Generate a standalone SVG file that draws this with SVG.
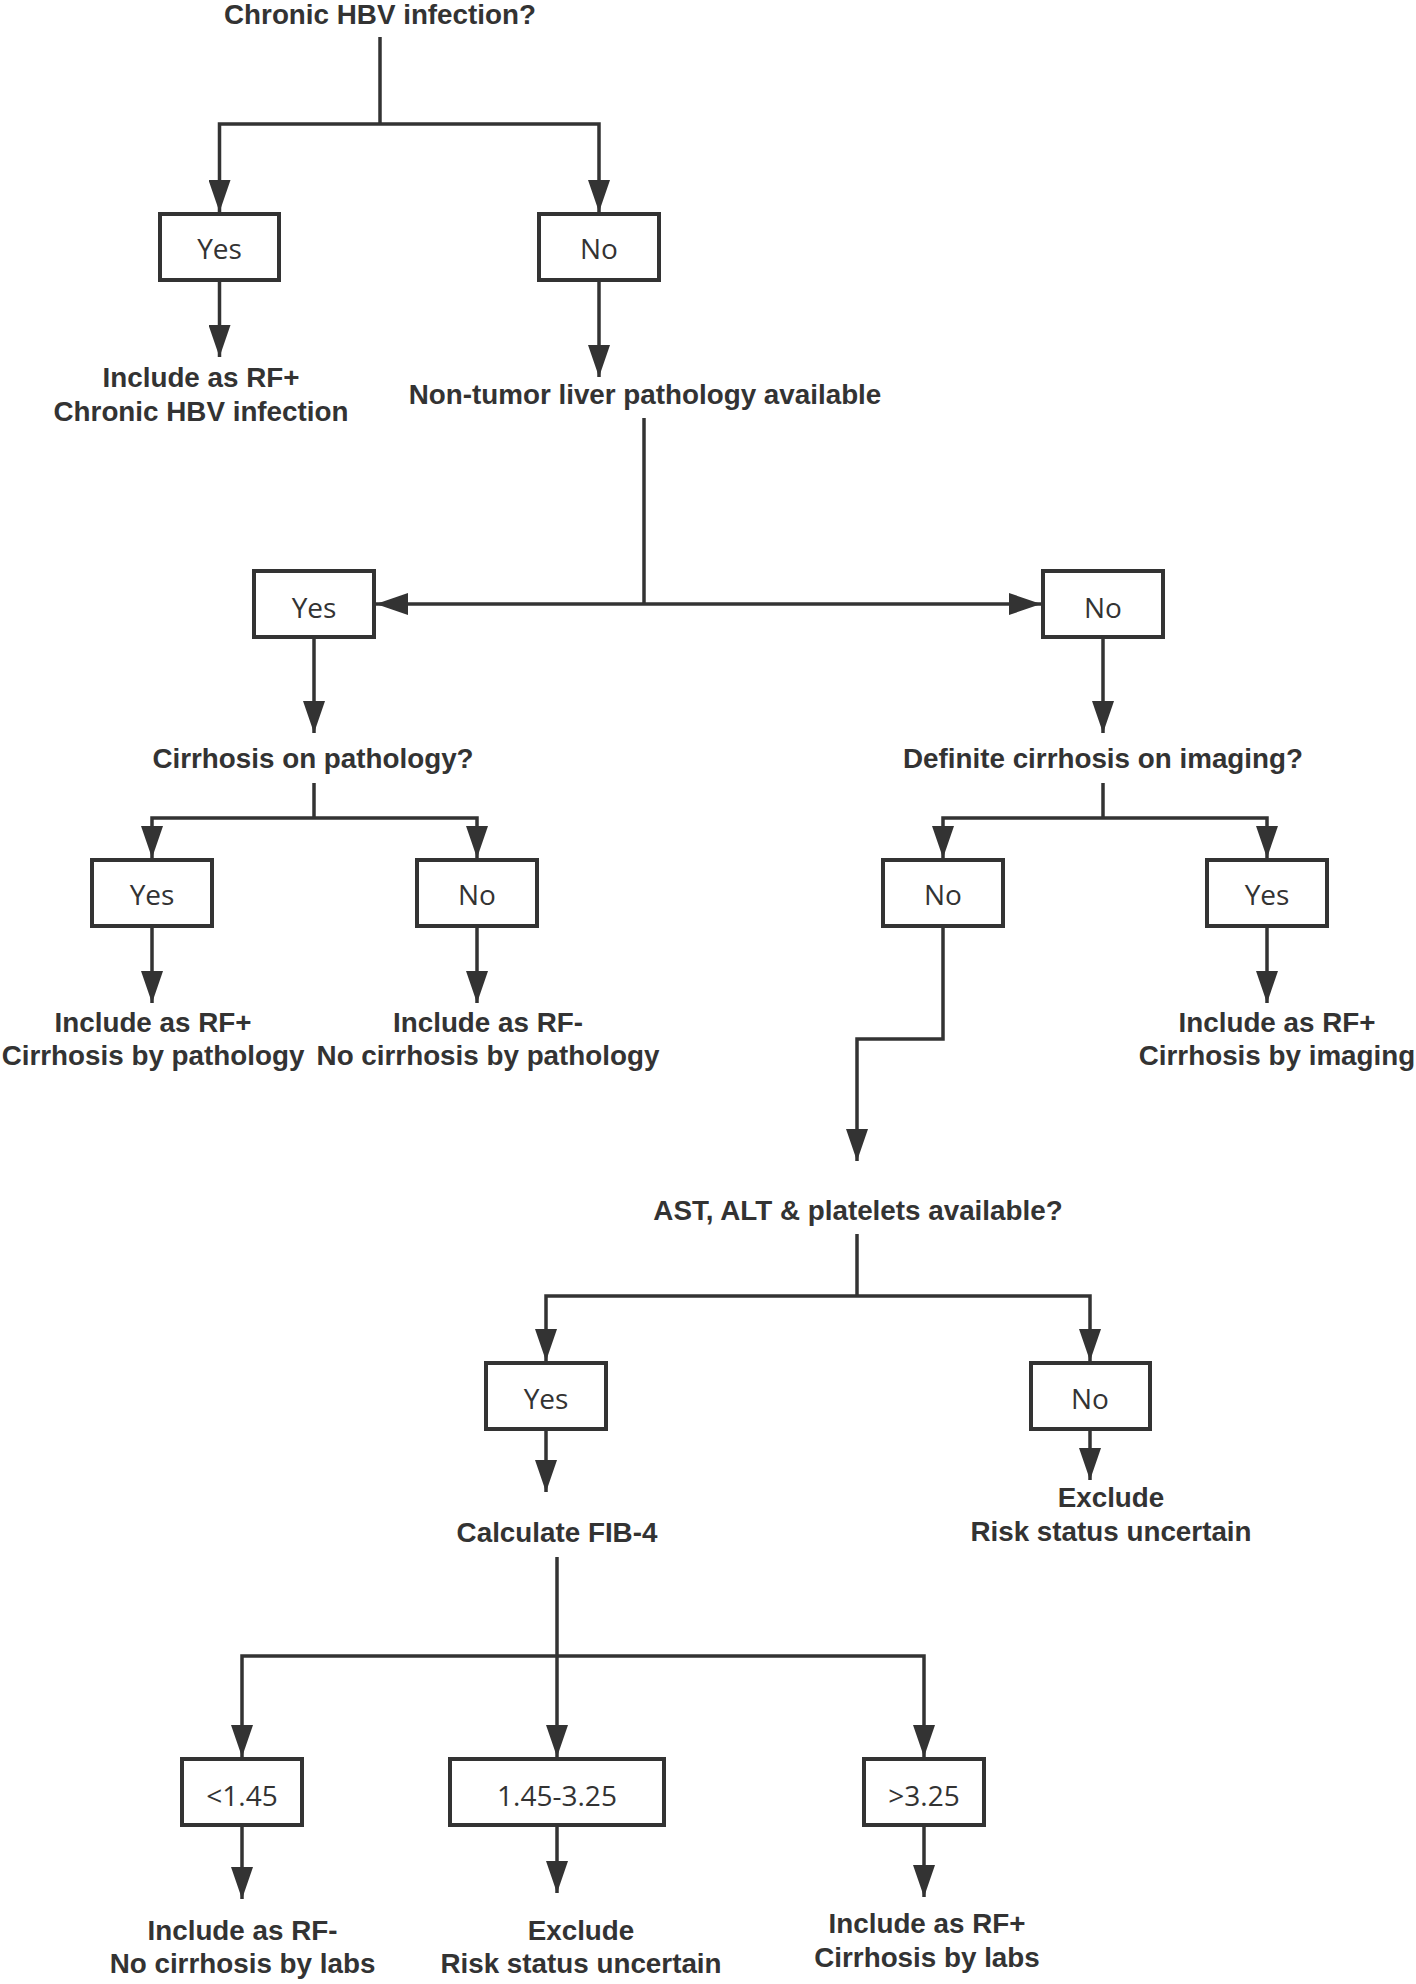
<svg xmlns="http://www.w3.org/2000/svg" width="1416" height="1984" viewBox="0 0 1416 1984">
<style>
  .bg{fill:#ffffff}
  .box rect{fill:#ffffff;stroke:#333333;stroke-width:4}
  .box text{font-family:"Open Sans","Noto Sans",sans-serif;font-size:28px;fill:#333333;text-anchor:middle}
  .lbl text{font-family:"Liberation Sans",Arial,sans-serif;font-weight:bold;font-size:27.8px;fill:#333333;text-anchor:middle}
  .conn path{fill:none;stroke:#333333;stroke-width:3.5}
  .conn path.a{marker-end:url(#arr)}
</style>
<defs>
  <marker id="arr" viewBox="0 0 32 22" refX="32" refY="11" markerWidth="32" markerHeight="22" markerUnits="userSpaceOnUse" orient="auto">
    <path d="M0,0 L32,11 L0,22 Z" fill="#333333"/>
  </marker>
</defs>
<rect class="bg" x="0" y="0" width="1416" height="1984"/>

<g id="connectors" class="conn">
  <path d="M380,37 V124"/>
  <path class="a" d="M380,124 H219.5 V212"/>
  <path class="a" d="M380,124 H599 V212"/>
  <path class="a" d="M219.5,282 V357"/>
  <path class="a" d="M599,282 V377"/>
  <path d="M644,418 V604"/>
  <path class="a" d="M644,604 H376"/>
  <path class="a" d="M644,604 H1041"/>
  <path class="a" d="M314,639 V733"/>
  <path class="a" d="M1103,639 V733"/>
  <path d="M314,783 V818"/>
  <path class="a" d="M314,818 H152 V858"/>
  <path class="a" d="M314,818 H477 V858"/>
  <path class="a" d="M152,928 V1003"/>
  <path class="a" d="M477,928 V1003"/>
  <path d="M1103,783 V818"/>
  <path class="a" d="M1103,818 H943 V858"/>
  <path class="a" d="M1103,818 H1267 V858"/>
  <path class="a" d="M1267,928 V1003"/>
  <path class="a" d="M943,928 V1039 H857 V1161"/>
  <path d="M857,1234 V1296"/>
  <path class="a" d="M857,1296 H546 V1361"/>
  <path class="a" d="M857,1296 H1090 V1361"/>
  <path class="a" d="M546,1431 V1492"/>
  <path class="a" d="M1090,1431 V1480"/>
  <path class="a" d="M557,1557 V1757"/>
  <path class="a" d="M557,1656 H242 V1757"/>
  <path class="a" d="M557,1656 H924 V1757"/>
  <path class="a" d="M242,1827 V1899"/>
  <path class="a" d="M557,1827 V1893"/>
  <path class="a" d="M924,1827 V1897"/>
</g>

<g id="q-hbv" class="lbl"><text x="380" y="24">Chronic HBV infection?</text></g>
<g id="hbv-yes" class="box"><rect x="160" y="214" width="119" height="66"/><text x="219.5" y="259">Yes</text></g>
<g id="hbv-no" class="box"><rect x="539" y="214" width="120" height="66"/><text x="599" y="259">No</text></g>
<g id="out-hbv" class="lbl"><text x="201" y="387">Include as RF+</text><text x="201" y="421">Chronic HBV infection</text></g>
<g id="q-path" class="lbl"><text x="645" y="404">Non-tumor liver pathology available</text></g>

<g id="path-yes" class="box"><rect x="254" y="571" width="120" height="66"/><text x="314" y="618">Yes</text></g>
<g id="path-no" class="box"><rect x="1043" y="571" width="120" height="66"/><text x="1103" y="618">No</text></g>

<g id="q-cirr-path" class="lbl"><text x="313" y="768">Cirrhosis on pathology?</text></g>
<g id="q-cirr-img" class="lbl"><text x="1103" y="768">Definite cirrhosis on imaging?</text></g>

<g id="cp-yes" class="box"><rect x="92" y="860" width="120" height="66"/><text x="152" y="905">Yes</text></g>
<g id="cp-no" class="box"><rect x="417" y="860" width="120" height="66"/><text x="477" y="905">No</text></g>
<g id="ci-no" class="box"><rect x="883" y="860" width="120" height="66"/><text x="943" y="905">No</text></g>
<g id="ci-yes" class="box"><rect x="1207" y="860" width="120" height="66"/><text x="1267" y="905">Yes</text></g>

<g id="out-cp-yes" class="lbl"><text x="153" y="1032">Include as RF+</text><text x="153" y="1065">Cirrhosis by pathology</text></g>
<g id="out-cp-no" class="lbl"><text x="488" y="1032">Include as RF-</text><text x="488" y="1065">No cirrhosis by pathology</text></g>
<g id="out-ci-yes" class="lbl"><text x="1277" y="1032">Include as RF+</text><text x="1277" y="1065">Cirrhosis by imaging</text></g>

<g id="q-labs" class="lbl"><text x="858" y="1220">AST, ALT &amp; platelets available?</text></g>
<g id="labs-yes" class="box"><rect x="486" y="1363" width="120" height="66"/><text x="546" y="1409">Yes</text></g>
<g id="labs-no" class="box"><rect x="1031" y="1363" width="119" height="66"/><text x="1090" y="1409">No</text></g>
<g id="fib4" class="lbl"><text x="557" y="1542">Calculate FIB-4</text></g>
<g id="out-labs-no" class="lbl"><text x="1111" y="1507">Exclude</text><text x="1111" y="1541">Risk status uncertain</text></g>

<g id="fib-low" class="box"><rect x="182" y="1759" width="120" height="66"/><text x="242" y="1806">&lt;1.45</text></g>
<g id="fib-mid" class="box"><rect x="450" y="1759" width="214" height="66"/><text x="557" y="1806">1.45-3.25</text></g>
<g id="fib-high" class="box"><rect x="864" y="1759" width="120" height="66"/><text x="924" y="1806">&gt;3.25</text></g>

<g id="out-low" class="lbl"><text x="242.5" y="1940">Include as RF-</text><text x="242.5" y="1973">No cirrhosis by labs</text></g>
<g id="out-mid" class="lbl"><text x="581" y="1940">Exclude</text><text x="581" y="1973">Risk status uncertain</text></g>
<g id="out-high" class="lbl"><text x="927" y="1933">Include as RF+</text><text x="927" y="1967">Cirrhosis by labs</text></g>
</svg>
